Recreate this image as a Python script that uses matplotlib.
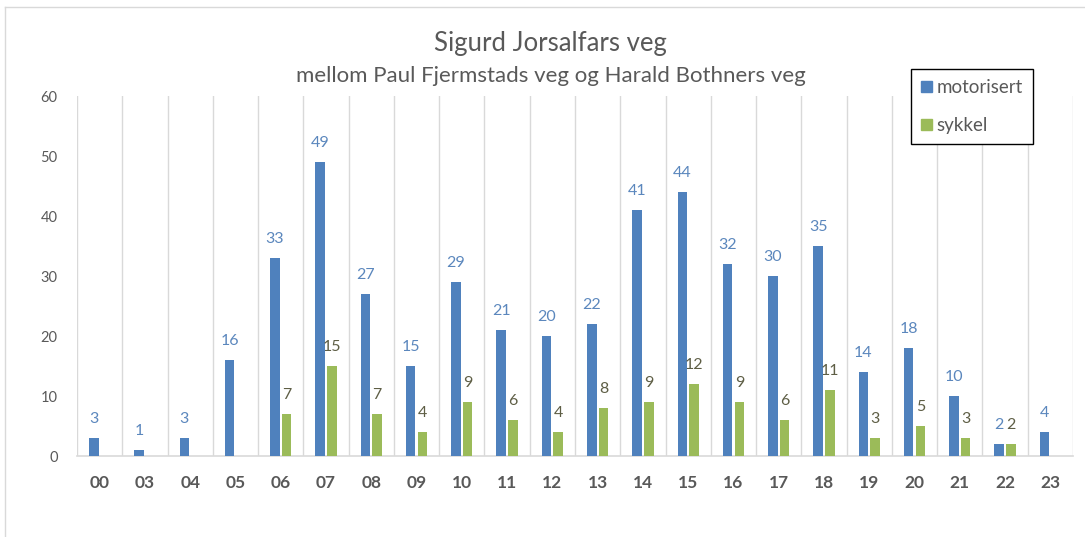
import numpy as np
import matplotlib.pyplot as plt
from matplotlib.lines import Line2D
from matplotlib.patches import Patch

plt.rcParams['font.family'] = ['Lato', 'DejaVu Sans']

timer = ['00', '03', '04', '05', '06', '07', '08', '09', '10', '11', '12',
         '13', '14', '15', '16', '17', '18', '19', '20', '21', '22', '23']
motorisert = [3, 1, 3, 16, 33, 49, 27, 15, 29, 21, 20, 22, 41, 44, 32, 30, 35, 14, 18, 10, 2, 4]
sykkel = [None, None, None, None, 7, 15, 7, 4, 9, 6, 4, 8, 9, 12, 9, 6, 11, 3, 5, 3, 2, None]

blaa = '#4f81bd'
gronn = '#9bbb59'
grid_c = '#d9d9d9'
tekst = '#595959'

W, H = 1085, 537
fig = plt.figure(figsize=(W / 100, H / 100), dpi=100)
ax = fig.add_axes([77 / W, 1 - 456 / H, 996 / W, 360 / H])

x = np.arange(len(timer))
bw = 0.21
off = 0.13

ax.bar(x - off, motorisert, width=bw, color=blaa, zorder=3)
xs = [i for i, v in zip(x, sykkel) if v is not None]
vs = [v for v in sykkel if v is not None]
ax.bar(np.array(xs) + off, vs, width=bw, color=gronn, zorder=3)

# dataetiketter
for i, v in zip(x, motorisert):
    ax.text(i - off, v + 2.0, str(v), ha='center', va='bottom', fontsize=11.5, color='#5b87bd')
for i, v in zip(xs, vs):
    ax.text(i + off, v + 2.0, str(v), ha='center', va='bottom', fontsize=11.5, color='#5e5e45')

ax.set_xlim(-0.5, len(timer) - 0.5)
ax.set_ylim(0, 60)
ax.set_yticks(range(0, 61, 10))
ax.set_xticks(x)
ax.set_xticklabels(timer, fontsize=12.5, fontweight='bold', color=tekst)
ax.tick_params(axis='y', labelsize=10.5, labelcolor=tekst, length=0, pad=14)
ax.tick_params(axis='x', length=0, pad=14)

for b in np.arange(-0.5, len(timer), 1.0):
    ax.axvline(b, color=grid_c, lw=1, zorder=1)

for s in ['top', 'right', 'left']:
    ax.spines[s].set_visible(False)
ax.spines['bottom'].set_color(grid_c)
ax.spines['bottom'].set_linewidth(1.2)

fig.text(550 / W, 1 - 43 / H, 'Sigurd Jorsalfars veg', ha='center', va='center',
         fontsize=18.5, color=tekst)
fig.text(551 / W, 1 - 76 / H, 'mellom Paul Fjermstads veg og Harald Bothners veg',
         ha='center', va='center', fontsize=16, color=tekst)

handles = [Patch(color=blaa), Patch(color=gronn)]
leg = fig.legend(handles, ['motorisert', 'sykkel'], loc='upper left',
                 bbox_to_anchor=(911 / W, 1 - 69 / H), fontsize=13.5,
                 handlelength=0.55, handleheight=0.55, handletextpad=0.25,
                 labelspacing=1.1, borderpad=0.55, borderaxespad=0, fancybox=False,
                 edgecolor='black', framealpha=1)
leg.get_frame().set_linewidth(1)
for t in leg.get_texts():
    t.set_color(tekst)

# ramme rundt diagrammet
fig.add_artist(Line2D([5 / W, 5 / W], [0, 1 - 7 / H], color='#d9d9d9', lw=1))
fig.add_artist(Line2D([5 / W, 1], [1 - 7 / H, 1 - 7 / H], color='#d9d9d9', lw=1))

fig.savefig('out.png', dpi=100)
